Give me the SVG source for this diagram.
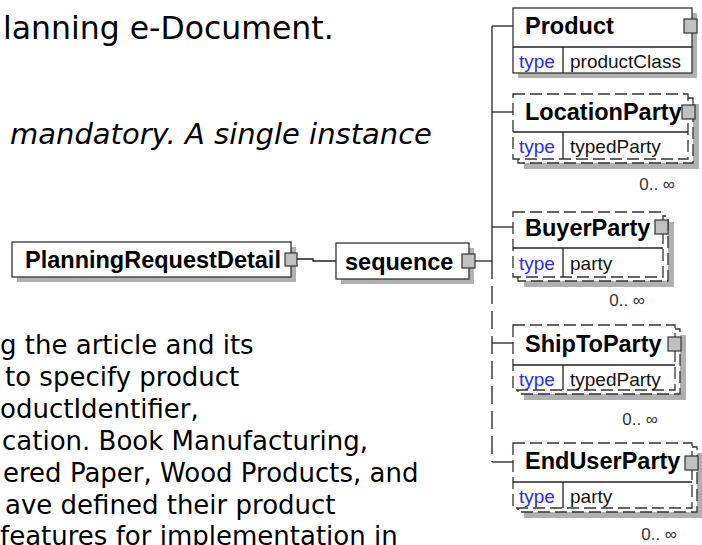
<svg xmlns="http://www.w3.org/2000/svg" width="702" height="545" viewBox="0 0 702 545">
<style>
.doc{font-family:"DejaVu Sans",Verdana,sans-serif;fill:#000}
.nm{font-family:"Liberation Sans",Arial,sans-serif;font-weight:bold;font-size:23.5px;fill:#000}
.ty{font-family:"Liberation Sans",Arial,sans-serif;font-size:19px;fill:#2a2aff}
.tv{font-family:"Liberation Sans",Arial,sans-serif;font-size:19px;fill:#111}
.occ{font-family:"Liberation Sans",Arial,sans-serif;font-size:17px;fill:#333;text-anchor:end}
.box{fill:#fff;stroke:#333;stroke-width:1.3}
.dbox{fill:#fff;stroke:#333;stroke-width:1.3;stroke-dasharray:12 5}
.sh{fill:#b0b0b0}
.sq{fill:#c0c0c0;stroke:#333;stroke-width:1.2}
.ln{stroke:#222;stroke-width:1.3;fill:none}
.dl{stroke:#222;stroke-width:1.3;fill:none;stroke-dasharray:18 7}
</style>

<g id="text">
<text class="doc" x="3" y="39" font-size="31.5">lanning e-Document.</text>
<text class="doc" x="10" y="144" font-size="29" font-style="italic">mandatory. A single instance</text>
<text class="doc" font-size="26">
<tspan x="0" y="354">g the article and its</tspan>
<tspan x="5" y="386">to specify product</tspan>
<tspan x="0" y="418">oductIdentifier,</tspan>
<tspan x="2" y="450">cation. Book Manufacturing,</tspan>
<tspan x="3" y="482">ered Paper, Wood Products, and</tspan>
<tspan x="5" y="514">ave defined their product</tspan>
<tspan x="0" y="545">features for implementation in</tspan>
</text>
</g>

<g id="connectors">
<polyline class="ln" points="297,259 313,259 313,261 336,261"/>
<line class="ln" x1="475" y1="261" x2="492" y2="261"/>
<line class="ln" x1="492" y1="26" x2="492" y2="261"/>
<line class="dl" x1="492" y1="261" x2="492" y2="462"/>
<line class="ln" x1="492" y1="26" x2="513" y2="26"/>
<line class="ln" x1="492" y1="112" x2="513" y2="112"/>
<line class="ln" x1="492" y1="227" x2="513" y2="227"/>
<line class="ln" x1="492" y1="343" x2="513" y2="343"/>
<line class="ln" x1="492" y1="462" x2="513" y2="462"/>
</g>

<g id="PlanningRequestDetail">
<rect class="sh" x="17" y="247" width="279" height="35"/>
<rect class="box" x="12" y="242" width="279" height="35"/>
<text class="nm" x="25" y="268">PlanningRequestDetail</text>
<rect class="sq" x="285" y="253" width="12" height="13"/>
</g>

<g id="sequence">
<rect class="sh" x="341" y="248" width="133" height="36"/>
<rect class="box" x="336" y="243" width="133" height="36"/>
<text class="nm" x="345" y="270">sequence</text>
<rect class="sq" x="462" y="254" width="13" height="14"/>
</g>

<g id="Product">
<rect class="sh" x="518" y="13" width="179" height="65"/>
<rect class="box" x="513" y="8" width="179" height="65"/>
<line class="ln" x1="513" y1="47" x2="692" y2="47"/>
<line class="ln" x1="563" y1="47" x2="563" y2="73"/>
<text class="nm" x="525" y="34">Product</text>
<text class="ty" x="519" y="68">type</text>
<text class="tv" x="570" y="68">productClass</text>
<rect class="sq" x="684" y="19" width="13" height="14"/>
</g>

<g id="LocationParty">
<rect class="sh" x="524" y="104" width="175" height="65"/>
<rect class="dbox" x="518" y="98" width="175" height="65"/>
<rect class="dbox" x="513" y="94" width="175" height="65"/>
<line class="ln" x1="513" y1="132" x2="688" y2="132"/>
<line class="ln" x1="563" y1="132" x2="563" y2="159"/>
<text class="nm" x="525" y="120">LocationParty</text>
<text class="ty" x="519" y="153">type</text>
<text class="tv" x="570" y="153">typedParty</text>
<rect class="sq" x="682" y="105" width="13" height="14"/>
<text class="occ" x="675" y="190">0.. ∞</text>
</g>

<g id="BuyerParty">
<rect class="sh" x="524" y="222" width="150" height="65"/>
<rect class="dbox" x="518" y="216" width="150" height="65"/>
<rect class="dbox" x="513" y="212" width="150" height="65"/>
<line class="ln" x1="513" y1="248" x2="663" y2="248"/>
<line class="ln" x1="563" y1="248" x2="563" y2="277"/>
<text class="nm" x="525" y="236">BuyerParty</text>
<text class="ty" x="519" y="270">type</text>
<text class="tv" x="570" y="270">party</text>
<rect class="sq" x="655" y="220" width="13" height="14"/>
<text class="occ" x="645" y="306">0.. ∞</text>
</g>

<g id="ShipToParty">
<rect class="sh" x="524" y="335" width="162" height="65"/>
<rect class="dbox" x="518" y="329" width="162" height="65"/>
<rect class="dbox" x="513" y="325" width="162" height="65"/>
<line class="ln" x1="513" y1="365" x2="675" y2="365"/>
<line class="ln" x1="563" y1="365" x2="563" y2="390"/>
<text class="nm" x="525" y="352">ShipToParty</text>
<text class="ty" x="519" y="386">type</text>
<text class="tv" x="570" y="386">typedParty</text>
<rect class="sq" x="668" y="337" width="13" height="14"/>
<text class="occ" x="658" y="425">0.. ∞</text>
</g>

<g id="EndUserParty">
<rect class="sh" x="524" y="453" width="179" height="65"/>
<rect class="dbox" x="518" y="447" width="179" height="65"/>
<rect class="dbox" x="513" y="443" width="179" height="65"/>
<line class="ln" x1="513" y1="482" x2="692" y2="482"/>
<line class="ln" x1="563" y1="482" x2="563" y2="508"/>
<text class="nm" x="525" y="469">EndUserParty</text>
<text class="ty" x="519" y="503">type</text>
<text class="tv" x="570" y="503">party</text>
<rect class="sq" x="685" y="456" width="13" height="14"/>
<text class="occ" x="677" y="540">0.. ∞</text>
</g>
</svg>
